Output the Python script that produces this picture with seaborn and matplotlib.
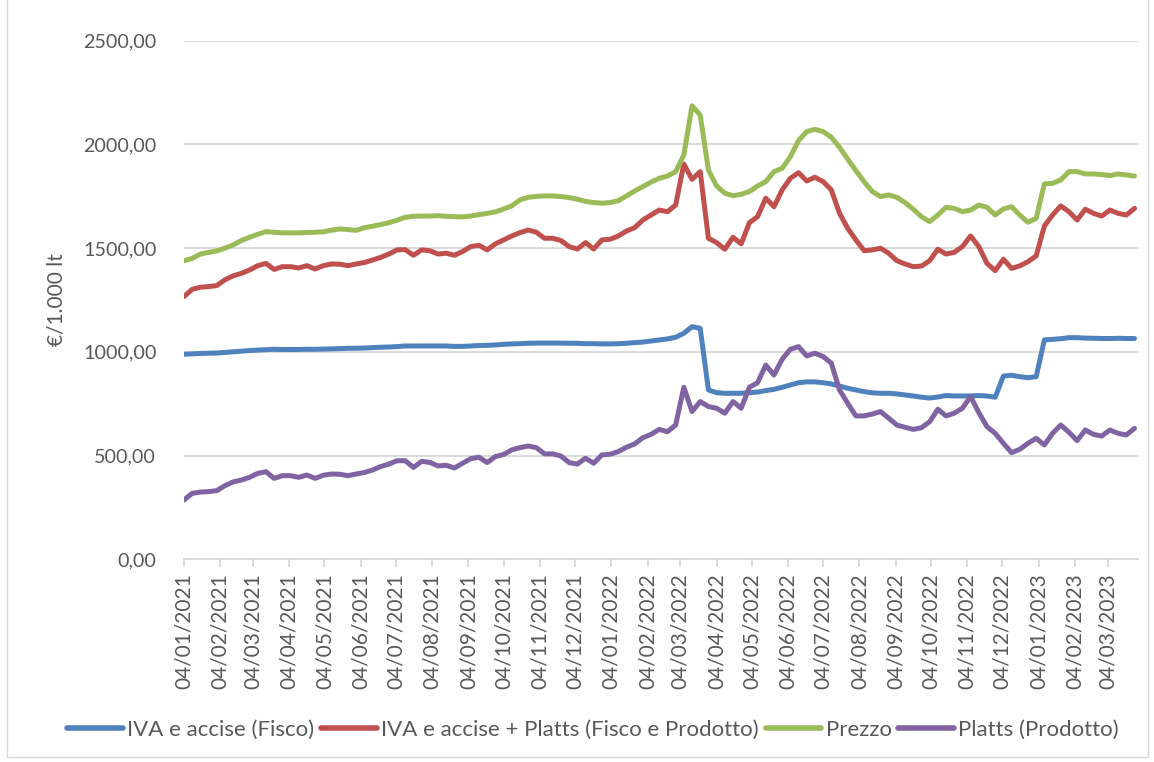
"""
plot.py - prezzi carburante: fisco, Platts, prezzo (settimanale)
"""
import pandas as pd
import matplotlib
matplotlib.use('Agg')
import matplotlib.pyplot as plt
import matplotlib.dates as mdates
from matplotlib.lines import Line2D
from matplotlib.ticker import FuncFormatter
import seaborn as sns

# settimane dal 04/01/2021
start_date = '2021-01-04'

fisco = [988, 990, 992, 993, 994, 997, 1000, 1003, 1006, 1008, 1010, 1012, 1011, 1011, 1011, 1012, 1012, 1013, 1014, 1015,
         1017, 1017, 1018, 1020, 1022, 1023, 1025, 1028, 1028, 1028, 1028, 1028, 1028, 1026, 1026, 1028, 1030, 1031, 1033, 1036,
         1038, 1039, 1041, 1042, 1042, 1042, 1042, 1041, 1041, 1039, 1039, 1038, 1038, 1039, 1041, 1044, 1047, 1052, 1057,
         1062, 1070, 1089, 1121, 1113, 816, 803, 800, 800, 800, 803, 806, 813, 819, 829, 840, 851, 855, 855, 851,
         845, 835, 824, 816, 808, 802, 800, 800, 797, 792, 787, 781, 777, 782, 789, 787, 787, 787, 789,
         787, 781, 883, 887, 880, 875, 880, 1057, 1060, 1063, 1068, 1068, 1066, 1065, 1064, 1064, 1065, 1064, 1064]

fisco_prodotto = [1266, 1301, 1311, 1314, 1319, 1347, 1366, 1378, 1394, 1415, 1426, 1397, 1410, 1410, 1404, 1415, 1399, 1415, 1423, 1422,
                  1415, 1423, 1430, 1442, 1455, 1471, 1491, 1492, 1465, 1491, 1487, 1471, 1475, 1465, 1483, 1507, 1513, 1491, 1520, 1539,
                  1558, 1574, 1587, 1576, 1547, 1547, 1536, 1507, 1495, 1526, 1495, 1539, 1542, 1558, 1582, 1598, 1635, 1659, 1683,
                  1675, 1707, 1905, 1831, 1868, 1547, 1526, 1494, 1552, 1520, 1622, 1651, 1740, 1699, 1780, 1836, 1863, 1823, 1841, 1820,
                  1780, 1667, 1595, 1539, 1487, 1491, 1499, 1475, 1439, 1423, 1410, 1413, 1439, 1494, 1471, 1479, 1507, 1558, 1507,
                  1426, 1391, 1446, 1402, 1414, 1434, 1462, 1606, 1659, 1703, 1675, 1635, 1687, 1667, 1654, 1683, 1667, 1659, 1691]

prezzo = [1439, 1450, 1471, 1479, 1486, 1499, 1515, 1536, 1552, 1566, 1579, 1576, 1573, 1573, 1573, 1575, 1576, 1578, 1586, 1592,
          1589, 1585, 1598, 1605, 1613, 1622, 1634, 1648, 1653, 1654, 1654, 1656, 1653, 1651, 1650, 1654, 1661, 1667, 1674, 1688,
          1703, 1732, 1744, 1749, 1751, 1751, 1748, 1743, 1735, 1725, 1719, 1716, 1719, 1728, 1751, 1775, 1796, 1818, 1836,
          1847, 1868, 1948, 2185, 2141, 1876, 1799, 1764, 1752, 1759, 1772, 1799, 1820, 1868, 1884, 1940, 2018, 2061, 2072, 2061,
          2034, 1985, 1928, 1873, 1820, 1772, 1748, 1756, 1744, 1719, 1687, 1651, 1627, 1659, 1696, 1691, 1675, 1683, 1707,
          1696, 1659, 1688, 1699, 1659, 1624, 1643, 1809, 1812, 1828, 1868, 1868, 1857, 1857, 1854, 1849, 1857, 1852, 1847]

platts = [286, 318, 324, 326, 331, 355, 373, 382, 395, 414, 422, 390, 403, 403, 395, 406, 390, 405, 411, 410,
          403, 411, 418, 430, 447, 459, 475, 475, 443, 472, 467, 450, 453, 440, 463, 485, 492, 466, 495, 505,
          527, 538, 546, 538, 508, 508, 498, 466, 459, 487, 463, 503, 506, 519, 540, 556, 586, 602, 626,
          615, 647, 829, 712, 760, 736, 728, 704, 760, 728, 829, 851, 936, 888, 964, 1012, 1025, 980, 993, 977,
          945, 816, 752, 691, 691, 700, 712, 680, 647, 636, 626, 634, 663, 723, 691, 704, 728, 784, 707,
          639, 607, 559, 514, 530, 559, 583, 551, 607, 647, 612, 572, 623, 602, 594, 623, 607, 599, 631]

series_names = ['IVA e accise (Fisco)', 'IVA e accise + Platts (Fisco e Prodotto)', 'Prezzo', 'Platts (Prodotto)']
series_colors = ['#4F81BD', '#C0504D', '#9BBB59', '#8064A2']

dates = pd.date_range(start_date, periods=len(fisco), freq='7D')
df = pd.concat([
    pd.DataFrame({'data': dates, 'valore': vals, 'serie': name})
    for name, vals in zip(series_names, [fisco, fisco_prodotto, prezzo, platts])
])

sns.set_theme(style='white')
plt.rcParams['font.family'] = ['Lato', 'DejaVu Sans']
text_col = '#595959'
grid_col = '#D9D9D9'

fig = plt.figure(figsize=(11.54, 7.62), dpi=100)
ax = fig.add_axes([184 / 1154, 1 - 559.3 / 762, (1138 - 184) / 1154, (559.3 - 40.5) / 762])

sns.lineplot(data=df, x='data', y='valore', hue='serie', hue_order=series_names,
             palette=dict(zip(series_names, series_colors)), linewidth=3.6,
             legend=False, ax=ax)

ax.set_ylim(0, 2500)
ax.set_xlim(pd.Timestamp('2021-01-04'), pd.Timestamp('2023-03-30'))
ax.set_yticks(range(0, 2501, 500))
ax.yaxis.set_major_formatter(FuncFormatter(lambda v, p: f'{v:.2f}'.replace('.', ',')))
ax.grid(axis='y', color=grid_col, linewidth=1.3)
ax.set_axisbelow(True)

month_ticks = [pd.Timestamp(2021 + m // 12, m % 12 + 1, 4) for m in range(27)]
ax.set_xticks(month_ticks)
ax.xaxis.set_major_formatter(mdates.DateFormatter('%d/%m/%Y'))
ax.tick_params(axis='x', rotation=90, length=6, width=1.3, color=grid_col,
               labelcolor=text_col, labelsize=15, pad=4, bottom=True)
ax.tick_params(axis='y', length=0, labelcolor=text_col, labelsize=14.2, pad=20)

for s in ['top', 'right', 'left']:
    ax.spines[s].set_visible(False)
ax.spines['bottom'].set_color(grid_col)
ax.spines['bottom'].set_linewidth(1.3)

ax.set_xlabel('')
ax.set_ylabel('€/1.000 lt', fontsize=15, color=text_col, labelpad=12)

handles = [Line2D([0], [0], color=c, linewidth=4, solid_capstyle='round') for c in series_colors]
fig.legend(handles, series_names, loc='center', bbox_to_anchor=(0.514, 1 - 730 / 762),
           ncol=4, frameon=False, fontsize=16, labelcolor=text_col,
           handlelength=2.5, handletextpad=0.2, columnspacing=0.3)

# cornice del grafico
for xs, ys in [([7, 7], [0, 757]), ([1148, 1148], [0, 757]), ([7, 1148], [757, 757])]:
    fig.add_artist(Line2D([x / 1154 for x in xs], [1 - y / 762 for y in ys],
                          color=grid_col, linewidth=1.0))

fig.savefig('out.png', dpi=100)
plt.close(fig)
